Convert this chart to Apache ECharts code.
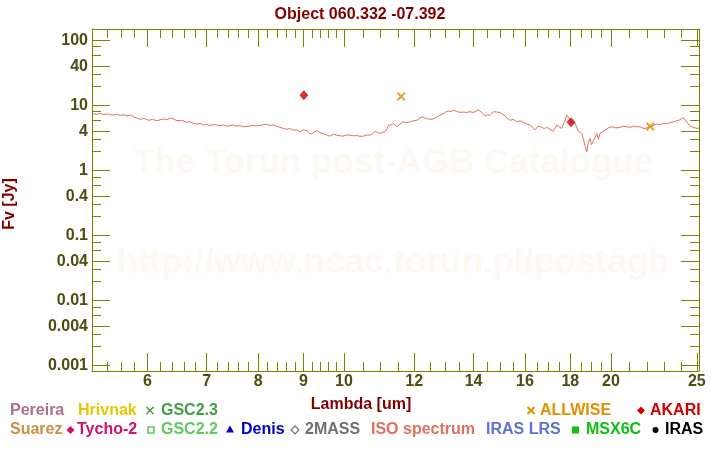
<!DOCTYPE html>
<html><head><meta charset="utf-8">
<script src="https://cdn.jsdelivr.net/npm/echarts@6/dist/echarts.min.js"></script>
<style>html,body{margin:0;padding:0;background:#fff}#c{width:720px;height:450px}</style>
</head><body><div id="c"></div>
<script>
const titleText = 'Object 060.332 -07.392';
const lambdaRange = [5.197, 25.14];
const fluxRange = [0.000829, 149.3];
const lambdaTicks = [6, 7, 8, 9, 10, 12, 14, 16, 18, 20, 25];
const lambdaMinor = [5.4, 5.6, 5.8, 6.2, 6.4, 6.6, 6.8, 7.2, 7.4, 7.6, 7.8, 8.2, 8.4, 8.6, 8.8, 9.2, 9.4, 9.6, 9.8,
  10.5, 11, 11.5, 12.5, 13, 13.5, 14.5, 15, 15.5, 16.5, 17, 17.5, 18.5, 19, 19.5, 21, 22, 23, 24];
const fluxTicks = [0.001, 0.004, 0.01, 0.04, 0.1, 0.4, 1, 4, 10, 40, 100];
const fluxMinor = [0.002, 0.003, 0.006, 0.008, 0.02, 0.03, 0.06, 0.08, 0.2, 0.3, 0.6, 0.8, 2, 3, 6, 8, 20, 30, 60, 80];

const isoSpectrum = [
 [5.20,7.6],[5.25,7.3],[5.31,7.5],[5.36,7.2],[5.41,7.4],[5.45,7.2],[5.50,7.1],[5.55,7.3],[5.59,7.0],[5.64,7.2],
 [5.69,6.9],[5.74,7.1],[5.79,6.7],[5.84,6.4],[5.89,6.1],[5.95,6.3],[6.02,5.9],[6.08,6.1],[6.15,5.8],[6.20,6.0],
 [6.26,6.2],[6.31,6.0],[6.37,6.4],[6.42,6.2],[6.48,5.8],[6.56,5.9],[6.65,5.5],[6.70,5.6],[6.76,5.3],[6.82,5.15],
 [6.88,5.3],[6.94,5.0],[7.00,5.1],[7.06,4.9],[7.12,5.1],[7.19,5.0],[7.25,4.9],[7.31,5.0],[7.37,4.8],[7.44,4.9],
 [7.50,5.0],[7.57,4.8],[7.63,4.9],[7.70,4.7],[7.77,4.75],[7.87,4.9],[7.97,4.85],[8.08,5.0],[8.18,5.15],[8.25,4.9],
 [8.32,5.0],[8.40,4.8],[8.47,4.6],[8.55,4.4],[8.62,4.3],[8.69,4.4],[8.77,4.15],[8.85,4.2],[8.92,3.9],[9.00,4.2],
 [9.08,4.1],[9.14,3.8],[9.19,3.6],[9.25,3.9],[9.32,4.1],[9.40,3.8],[9.48,3.7],[9.56,3.5],[9.64,3.37],[9.73,3.6],
 [9.81,3.5],[9.90,3.4],[9.98,3.37],[10.07,3.5],[10.16,3.5],[10.25,3.4],[10.33,3.45],[10.42,3.35],[10.51,3.37],[10.60,3.5],
 [10.70,3.5],[10.77,3.7],[10.84,4.0],[10.91,3.8],[10.98,3.7],[11.05,3.9],[11.12,3.9],[11.18,4.4],[11.22,4.9],[11.30,5.0],
 [11.37,5.3],[11.42,5.0],[11.47,4.7],[11.57,5.2],[11.67,5.6],[11.77,5.4],[11.87,5.6],[11.97,5.8],[12.08,5.9],[12.16,6.3],
 [12.24,6.7],[12.32,6.4],[12.40,6.3],[12.50,6.1],[12.61,6.2],[12.70,6.5],[12.78,6.9],[12.86,7.2],[12.94,7.5],[13.02,7.9],
 [13.11,8.2],[13.20,8.0],[13.28,8.5],[13.40,8.1],[13.51,7.8],[13.63,7.9],[13.75,7.8],[13.87,8.0],[13.99,7.8],[14.08,8.1],
 [14.17,8.55],[14.30,7.8],[14.42,6.9],[14.52,7.2],[14.61,7.0],[14.74,8.0],[14.87,7.9],[15.00,7.8],[15.10,7.3],[15.19,6.9],
 [15.29,6.3],[15.39,5.9],[15.52,6.1],[15.66,5.6],[15.80,5.8],[15.93,5.45],[16.07,5.2],[16.21,5.0],[16.32,4.6],[16.42,4.2],
 [16.56,4.8],[16.71,4.6],[16.82,4.4],[16.93,4.6],[17.07,4.3],[17.22,4.0],[17.30,4.5],[17.37,5.0],[17.48,4.7],[17.60,4.43],
 [17.72,5.5],[17.83,7.1],[17.95,6.3],[18.06,5.5],[18.14,5.6],[18.22,5.3],[18.30,4.6],[18.37,4.0],[18.46,4.2],[18.54,3.7],
 [18.62,3.0],[18.70,2.4],[18.78,1.93],[18.86,2.7],[18.94,3.1],[19.02,2.5],[19.10,2.6],[19.19,3.2],[19.28,3.7],[19.36,3.0],
 [19.44,3.7],[19.52,3.5],[19.61,4.0],[19.70,4.2],[19.78,4.3],[19.90,4.6],[20.04,4.7],[20.26,4.5],[20.48,4.6],[20.66,4.8],
 [20.84,4.7],[21.02,4.6],[21.20,4.8],[21.38,4.7],[21.57,4.7],[21.71,4.5],[21.85,4.4],[22.00,4.6],[22.13,4.7],[22.32,4.9],
 [22.52,5.15],[22.71,5.0],[22.91,5.3],[23.10,5.2],[23.31,5.4],[23.52,5.6],[23.72,5.8],[23.92,6.0],[24.13,6.5],[24.24,6.2],
 [24.35,5.6],[24.50,5.0],[24.66,4.7],[24.82,4.6],[24.99,4.4],[25.14,4.5]
];
const akari = [[9.01, 14.3], [18.03, 5.53]];
const allwise = [[11.6, 13.7], [22.15, 4.75]];

const L = Math.log10;
const olive = '#808000';
const labCol = '#4d4d12';
const maroon = '#800000';
const FONT = '"Liberation Sans", Arial, sans-serif';
const fmt = v => String(+Math.pow(10, v).toPrecision(4));

function xAx(pos, vals, len, showLabel, showLine) {
  return {
    type: 'value', position: pos, min: L(lambdaRange[0]), max: L(lambdaRange[1]),
    axisLine: { show: showLine, onZero: false, lineStyle: { color: olive, width: 1 } },
    axisTick: { show: true, inside: true, length: len, customValues: vals.map(L), lineStyle: { color: olive, width: 1 } },
    axisLabel: { show: showLabel, customValues: vals.map(L), formatter: fmt, margin: 3, color: labCol,
      fontWeight: 'bold', fontSize: 16, fontFamily: FONT },
    splitLine: { show: false }
  };
}
function yAx(pos, vals, len, showLabel, showLine) {
  return {
    type: 'value', position: pos, min: L(fluxRange[0]), max: L(fluxRange[1]),
    axisLine: { show: showLine, onZero: false, lineStyle: { color: olive, width: 1 } },
    axisTick: { show: true, inside: true, length: len, customValues: vals.map(L), lineStyle: { color: olive, width: 1 } },
    axisLabel: { show: showLabel, customValues: vals.map(L), formatter: fmt, margin: 4, color: labCol,
      fontWeight: 'bold', fontSize: 16, fontFamily: FONT },
    splitLine: { show: false }
  };
}

const crossPath = 'path://M0,1.6L1.6,0L5,3.4L8.4,0L10,1.6L6.6,5L10,8.4L8.4,10L5,6.6L1.6,10L0,8.4L3.4,5Z';

function txt(text, x, y, color, extra) {
  return Object.assign({ type: 'text', x: x, y: y, silent: true,
    style: { text: text, fill: color, font: 'bold 16px ' + FONT, align: 'left', verticalAlign: 'middle' } }, extra || {});
}
function cross(x, y, color, w) {
  const r = 3.5;
  return { type: 'group', children: [
    { type: 'line', shape: { x1: x - r, y1: y - r, x2: x + r, y2: y + r }, style: { stroke: color, lineWidth: w } },
    { type: 'line', shape: { x1: x - r, y1: y + r, x2: x + r, y2: y - r }, style: { stroke: color, lineWidth: w } }
  ] };
}
function diamond(x, y, color, filled, r) {
  r = r || 4;
  return { type: 'polygon', shape: { points: [[x, y - r], [x + r, y], [x, y + r], [x - r, y]] },
    style: filled ? { fill: color } : { fill: '#fff', stroke: color, lineWidth: 1.2 } };
}

const r1 = 410.5, r2 = 430;
const legendEls = [
  txt('Pereira', 10, r1, '#b07088'),
  txt('Hrivnak', 78, r1, '#e6c800'),
  cross(150, r1, '#40a040', 1.6), txt('GSC2.3', 161, r1, '#40a040'),
  cross(531, r1, '#e09000', 2), txt('ALLWISE', 540, r1, '#e09000'),
  diamond(641, r1, '#d00000', true), txt('AKARI', 650, r1, '#d00000'),
  txt('Suarez', 10, r2, '#c89040'),
  diamond(70.5, r2, '#d0106a', true), txt('Tycho-2', 77, r2, '#d0106a'),
  { type: 'rect', shape: { x: 148, y: r2 - 3, width: 6, height: 6 }, style: { fill: '#fff', stroke: '#60c860', lineWidth: 1.6 } },
  txt('GSC2.2', 161, r2, '#60c860'),
  { type: 'polygon', shape: { points: [[230, r2 - 4.5], [234, r2 + 2.5], [226, r2 + 2.5]] }, style: { fill: '#0000c8' } },
  txt('Denis', 241, r2, '#0000c8'),
  diamond(295, r2, '#707070', false), txt('2MASS', 305, r2, '#707070'),
  txt('ISO spectrum', 371, r2, '#e07060'),
  txt('IRAS LRS', 486, r2, '#6070d0'),
  { type: 'rect', shape: { x: 572, y: r2 - 3.5, width: 7, height: 7 }, style: { fill: '#10c010' } },
  txt('MSX6C', 586, r2, '#10c010'),
  { type: 'circle', shape: { cx: 655.5, cy: r2, r: 3 }, style: { fill: '#000' } },
  txt('IRAS', 665, r2, '#000')
];

const chart = echarts.init(document.getElementById('c'), null, { renderer: 'canvas' });
chart.setOption({
  animation: false,
  backgroundColor: '#fff',
  title: { text: titleText, left: 'center', top: 2,
    textStyle: { color: maroon, fontSize: 16, fontWeight: 'bold', fontFamily: FONT } },
  grid: { left: 92, right: 21, top: 29, bottom: 79, containLabel: false },
  xAxis: [
    xAx('bottom', lambdaTicks, 18, true, true),
    xAx('bottom', lambdaMinor, 9, false, false),
    xAx('top', lambdaTicks, 18, false, true),
    xAx('top', lambdaMinor, 9, false, false)
  ],
  yAxis: [
    yAx('left', fluxTicks, 18, true, true),
    yAx('left', fluxMinor, 9, false, false),
    yAx('right', fluxTicks, 18, false, true),
    yAx('right', fluxMinor, 9, false, false)
  ],
  graphic: [
    { type: 'text', x: 393, y: 163, z: -10, silent: true,
      style: { text: 'The Torun post-AGB Catalogue', fill: '#fcf8f2', font: 'bold 35px ' + FONT, align: 'center', verticalAlign: 'middle' } },
    { type: 'text', x: 393, y: 263, z: -10, silent: true,
      style: { text: 'http://www.ncac.torun.pl/postagb', fill: '#fcf8f2', font: 'bold 35px ' + FONT, align: 'center', verticalAlign: 'middle' } },
    { type: 'text', x: 361, y: 404.5, silent: true,
      style: { text: 'Lambda [um]', fill: maroon, font: 'bold 16px ' + FONT, align: 'center', verticalAlign: 'middle' } },
    { type: 'text', x: 10, y: 204, rotation: Math.PI / 2, silent: true,
      style: { text: 'Fv [Jy]', fill: maroon, font: 'bold 16px ' + FONT, align: 'center', verticalAlign: 'middle' } }
  ].concat(legendEls),
  series: [
    { name: 'ISO spectrum', type: 'line', data: isoSpectrum.map(p => [L(p[0]), L(p[1])]), showSymbol: false,
      lineStyle: { color: '#e0705c', width: 1 }, z: 3, silent: true },
    { name: 'AKARI', type: 'scatter', data: akari.map(p => [L(p[0]), L(p[1])]), symbol: 'diamond', symbolSize: [9, 10],
      itemStyle: { color: '#d00000' }, z: 5 },
    { name: 'ALLWISE', type: 'scatter', data: allwise.map(p => [L(p[0]), L(p[1])]), symbol: crossPath, symbolSize: 9,
      itemStyle: { color: '#e09000' }, z: 5 }
  ]
});
</script></body></html>
